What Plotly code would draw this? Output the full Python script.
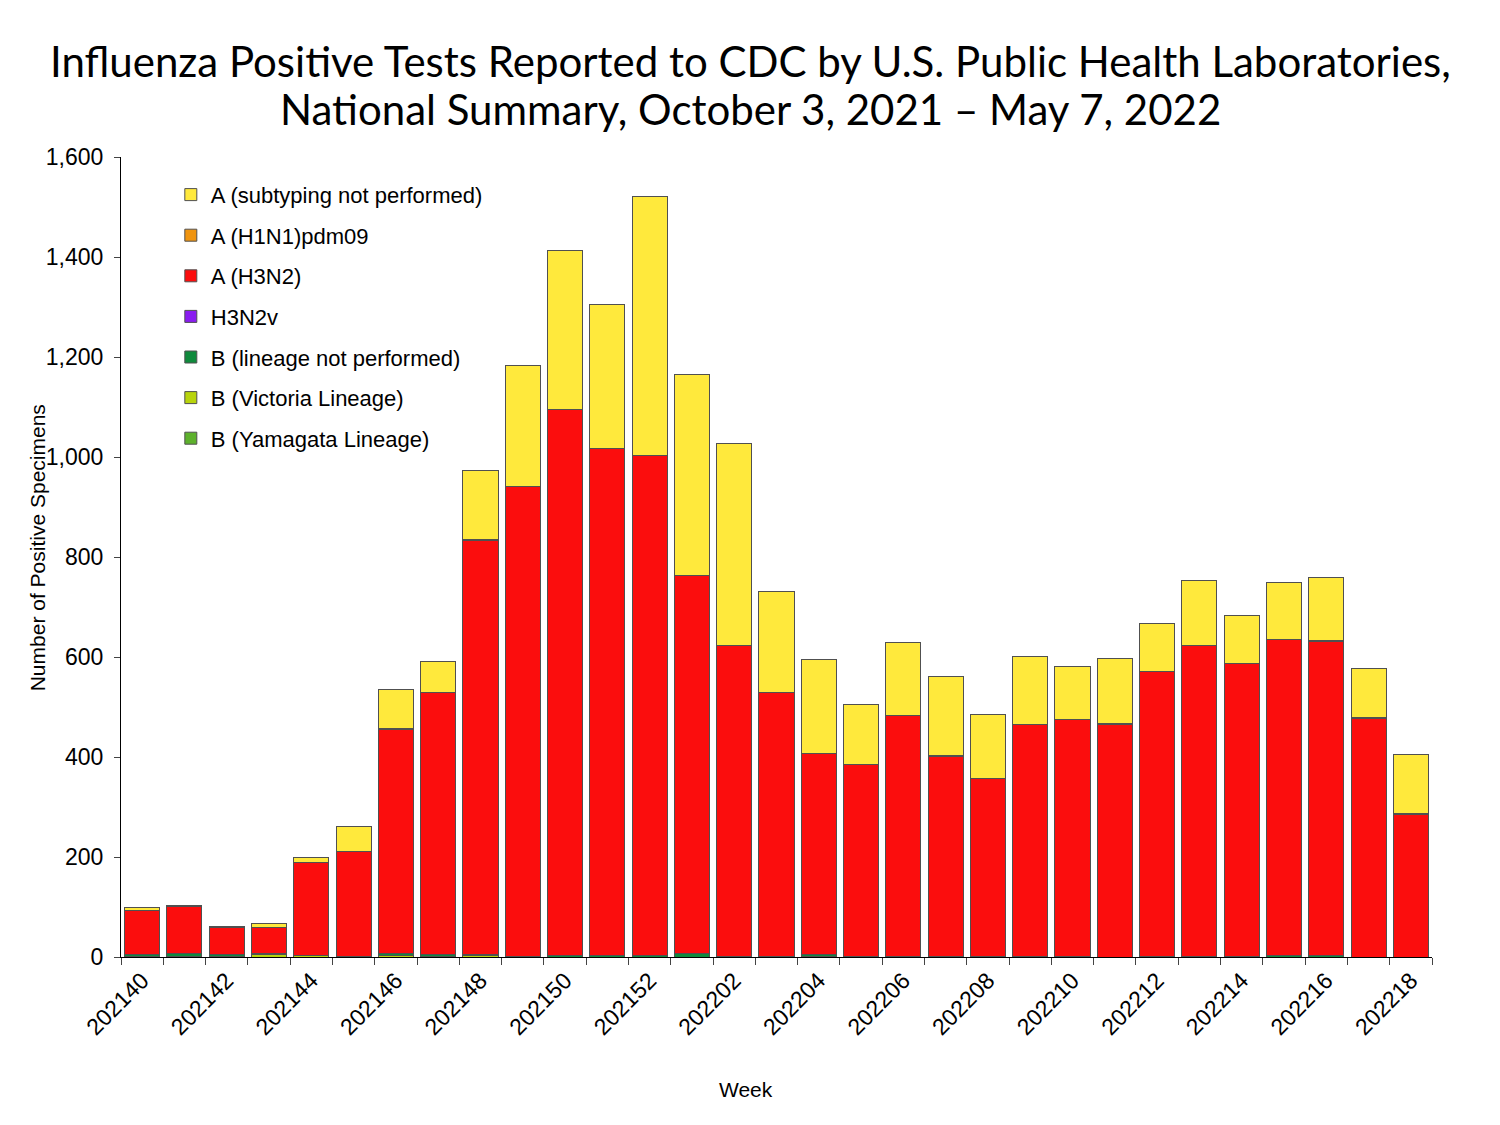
#!/usr/bin/env python3
"""
Influenza positive tests reported by public health labs, 2021-22 season
"""

import plotly.graph_objects as go

# week labels (YYYYWW)
weeks = ['202140', '202141', '202142', '202143', '202144', '202145', '202146',
         '202147', '202148', '202149', '202150', '202151', '202152',
         '202201', '202202', '202203', '202204', '202205', '202206', '202207',
         '202208', '202209', '202210', '202211', '202212', '202213', '202214',
         '202215', '202216', '202217', '202218']

# counts per virus type
b_yamagata = [0] * 31
b_victoria = [2, 1, 2, 6, 3, 0, 3, 1, 3, 0, 0, 0, 0, 0, 0, 0, 1, 0, 0, 0,
              0, 0, 0, 0, 0, 0, 0, 0, 0, 0, 0]
b_lineage_np = [4, 7, 4, 2, 0, 2, 5, 4, 3, 2, 3, 3, 3, 7, 2, 1, 4, 2, 1, 1,
                1, 2, 1, 0, 2, 2, 2, 4, 3, 0, 0]
h3n2v = [0] * 31
a_h3n2 = [87, 94, 53, 52, 186, 210, 448, 525, 828, 940, 1093, 1015, 1001,
          757, 621, 528, 403, 383, 483, 400, 356, 464, 474, 465, 569, 622,
          586, 631, 629, 478, 286]
a_h1n1 = [1, 1, 1, 0, 0, 0, 1, 0, 1, 0, 0, 0, 0, 0, 0, 0, 0, 0, 0, 2,
          0, 0, 0, 2, 0, 0, 0, 0, 2, 2, 1]
a_not_subtyped = [5, 1, 2, 7, 10, 49, 79, 62, 138, 241, 317, 287, 517, 401,
                  405, 202, 187, 120, 145, 158, 128, 135, 106, 131, 96, 129,
                  95, 115, 125, 97, 119]

# (name, values, colour) bottom to top
series = [
    ('B (Yamagata Lineage)', b_yamagata, '#5db12c'),
    ('B (Victoria Lineage)', b_victoria, '#b8d40c'),
    ('B (lineage not performed)', b_lineage_np, '#0f8a3c'),
    ('H3N2v', h3n2v, '#8a1cf0'),
    ('A (H3N2)', a_h3n2, '#fb0d0d'),
    ('A (H1N1)pdm09', a_h1n1, '#f0940f'),
    ('A (subtyping not performed)', a_not_subtyped, '#ffe93c'),
]

fig = go.Figure()
for i, (name, vals, color) in enumerate(series):
    fig.add_trace(go.Bar(
        x=weeks, y=vals, name=name, legendgroup=str(i),
        legendrank=len(series) - i,
        marker=dict(color=color, line=dict(color='#505050', width=1))
    ))

tick_text = [w if i % 2 == 0 else '' for i, w in enumerate(weeks)]

title_font = dict(family='Lato, Open Sans', size=42, color='black')

# page has an 8px body margin, so the figure is a bit smaller than the window
fig.update_layout(
    barmode='stack',
    bargap=0.17,
    width=1492, height=1117,
    plot_bgcolor='white', paper_bgcolor='white',
    margin=dict(l=113, r=68, t=149, b=168),
    font=dict(family='Liberation Sans, Arial', color='black', size=22),
    legend=dict(
        x=0.038, y=0.979, xanchor='left', yanchor='top',
        traceorder='grouped', tracegroupgap=9,
        font=dict(size=22), bgcolor='rgba(0,0,0,0)'
    ),
    xaxis=dict(
        tickmode='array', tickvals=weeks, ticktext=tick_text,
        tickson='boundaries', ticks='outside', ticklen=7,
        tickangle=-45, showline=True, linecolor='black', linewidth=1,
        tickfont=dict(size=23)
    ),
    yaxis=dict(
        range=[0, 1600], dtick=200, tickformat=',',
        ticks='outside', ticklen=6, showgrid=False,
        showline=True, linecolor='black', linewidth=1,
        tickfont=dict(size=23), ticklabelstandoff=6
    ),
    annotations=[
        dict(text='Influenza Positive Tests Reported to CDC by U.S. Public Health Laboratories,',
             xref='paper', yref='paper', x=0.48, y=1.12,
             xanchor='center', yanchor='middle', showarrow=False,
             font=title_font),
        dict(text='National Summary, October 3, 2021 \u2013 May 7, 2022',
             xref='paper', yref='paper', x=0.48, y=1.06,
             xanchor='center', yanchor='middle', showarrow=False,
             font=title_font),
        dict(text='Number of Positive Specimens', textangle=-90,
             xref='paper', yref='paper', x=-0.064, y=0.511,
             xanchor='center', yanchor='middle', showarrow=False,
             font=dict(size=21)),
        dict(text='Week', xref='paper', yref='paper', x=0.477, y=-0.166,
             xanchor='center', yanchor='middle', showarrow=False,
             font=dict(size=21)),
    ]
)

fig.write_html("out.html")
